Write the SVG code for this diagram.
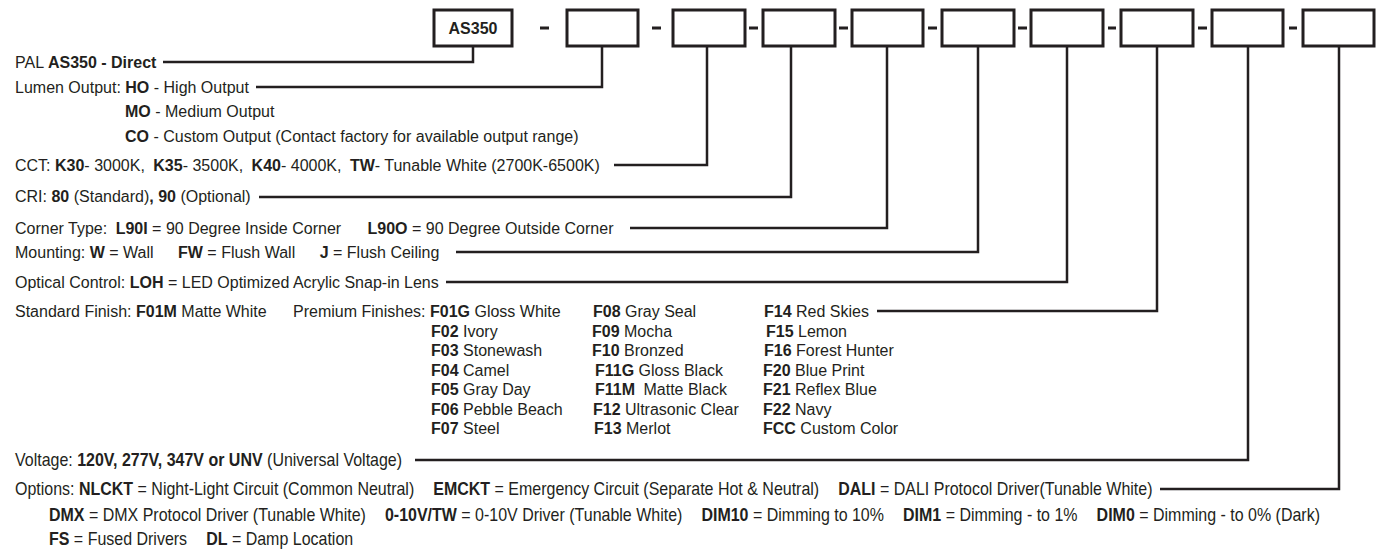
<svg xmlns="http://www.w3.org/2000/svg" width="1376" height="550" viewBox="0 0 1376 550">
<style>
text{font-family:"Liberation Sans",Arial,sans-serif;font-size:16px;fill:#231f20}
.b{font-weight:bold}
.box{fill:#fff;stroke:#231f20;stroke-width:3}
.ln{fill:none;stroke:#231f20;stroke-width:2.5}
.dash{stroke:#231f20;stroke-width:3}
.nar text{font-size:17.5px}
</style>
<rect width="1376" height="550" fill="#fff"/>
<g id="connectors">
<path class="ln" d="M163 62H473V46"/>
<path class="ln" d="M256 87H602V46"/>
<path class="ln" d="M614 165H707V46"/>
<path class="ln" d="M259 197H791V46"/>
<path class="ln" d="M630 228H887V46"/>
<path class="ln" d="M456 252H978V46"/>
<path class="ln" d="M446 282H1067V46"/>
<path class="ln" d="M877 311H1157V46"/>
<path class="ln" d="M415 460H1248V46"/>
<path class="ln" d="M1160 489H1339V46"/>
<path class="dash" d="M540 28H549M652 28H661M749 28H758M839 28H848M928 28H937M1018 28H1027M1108 28H1116M1198 28H1207M1289 28H1297"/>
</g>
<g id="box-as350"><rect class="box" x="434" y="10" width="78" height="36"/><text class="b" x="473" y="34" text-anchor="middle">AS350</text></g>
<g id="box2"><rect class="box" x="567" y="10" width="71" height="36"/></g>
<g id="box3"><rect class="box" x="673" y="10" width="72" height="36"/></g>
<g id="box4"><rect class="box" x="763" y="10" width="72" height="36"/></g>
<g id="box5"><rect class="box" x="852" y="10" width="71" height="36"/></g>
<g id="box6"><rect class="box" x="942" y="10" width="72" height="36"/></g>
<g id="box7"><rect class="box" x="1031" y="10" width="72" height="36"/></g>
<g id="box8"><rect class="box" x="1121" y="10" width="72" height="36"/></g>
<g id="box9"><rect class="box" x="1212" y="10" width="71" height="36"/></g>
<g id="box10"><rect class="box" x="1303" y="10" width="71" height="36"/></g>
<g id="label-pal"><text x="15" y="68">PAL <tspan class="b">AS350 - Direct</tspan></text></g>
<g id="label-lumen">
<text x="15" y="93">Lumen Output: <tspan class="b">HO</tspan> - High Output</text>
<text x="125" y="117"><tspan class="b">MO</tspan> - Medium Output</text>
<text x="125" y="142"><tspan class="b">CO</tspan> - Custom Output (Contact factory for available output range)</text>
</g>
<g id="label-cct"><text x="15" y="171">CCT: <tspan class="b">K30</tspan>- 3000K, <tspan class="b" dx="4">K35</tspan>- 3500K, <tspan class="b" dx="4">K40</tspan>- 4000K, <tspan class="b" dx="4">TW</tspan>- Tunable White (2700K-6500K)</text></g>
<g id="label-cri"><text x="15" y="202">CRI: <tspan class="b">80</tspan> (Standard)<tspan class="b">, 90</tspan> (Optional)</text></g>
<g id="label-corner"><text x="15" y="234">Corner Type: <tspan class="b" dx="4">L90I</tspan> = 90 Degree Inside Corner <tspan class="b" dx="22">L90O</tspan> = 90 Degree Outside Corner</text></g>
<g id="label-mounting"><text x="15" y="258">Mounting: <tspan class="b">W</tspan> = Wall <tspan class="b" dx="20">FW</tspan> = Flush Wall <tspan class="b" dx="20">J</tspan> = Flush Ceiling</text></g>
<g id="label-optical"><text x="15" y="288">Optical Control: <tspan class="b">LOH</tspan> = LED Optimized Acrylic Snap-in Lens</text></g>
<g id="label-finish">
<text x="15" y="317">Standard Finish: <tspan class="b">F01M</tspan> Matte White</text>
<text x="293" y="317">Premium Finishes:</text>
<text x="430" y="317"><tspan class="b">F01G</tspan> Gloss White</text>
<text x="431" y="336.5"><tspan class="b">F02</tspan> Ivory</text>
<text x="431" y="356"><tspan class="b">F03</tspan> Stonewash</text>
<text x="431" y="375.5"><tspan class="b">F04</tspan> Camel</text>
<text x="431" y="395"><tspan class="b">F05</tspan> Gray Day</text>
<text x="431" y="414.5"><tspan class="b">F06</tspan> Pebble Beach</text>
<text x="431" y="434"><tspan class="b">F07</tspan> Steel</text>
<text x="593" y="317"><tspan class="b">F08</tspan> Gray Seal</text>
<text x="592" y="336.5"><tspan class="b">F09</tspan> Mocha</text>
<text x="592" y="356"><tspan class="b">F10</tspan> Bronzed</text>
<text x="595" y="375.5"><tspan class="b">F11G</tspan> Gloss Black</text>
<text x="595" y="395"><tspan class="b">F11M</tspan><tspan dx="4"> Matte Black</tspan></text>
<text x="593" y="414.5"><tspan class="b">F12</tspan> Ultrasonic Clear</text>
<text x="594" y="434"><tspan class="b">F13</tspan> Merlot</text>
<text x="764" y="317"><tspan class="b">F14</tspan> Red Skies</text>
<text x="766" y="336.5"><tspan class="b">F15</tspan> Lemon</text>
<text x="764" y="356"><tspan class="b">F16</tspan> Forest Hunter</text>
<text x="763" y="375.5"><tspan class="b">F20</tspan> Blue Print</text>
<text x="763" y="395"><tspan class="b">F21</tspan> Reflex Blue</text>
<text x="763" y="414.5"><tspan class="b">F22</tspan> Navy</text>
<text x="763" y="434"><tspan class="b">FCC</tspan> Custom Color</text>
</g>
<g id="label-voltage" class="nar" transform="translate(15,466) scale(0.914,1)"><text x="0" y="0">Voltage: <tspan class="b">120V, 277V, 347V or UNV</tspan> (Universal Voltage)</text></g>
<g id="label-options" class="nar">
<g transform="translate(15,495) scale(0.914,1)"><text x="0" y="0">Options: <tspan class="b">NLCKT</tspan> =  Night-Light Circuit (Common Neutral) <tspan class="b" dx="16">EMCKT</tspan> = Emergency Circuit (Separate Hot &amp; Neutral) <tspan class="b" dx="16">DALI</tspan> = DALI Protocol Driver(Tunable White)</text></g>
<g transform="translate(49,521) scale(0.914,1)"><text x="0" y="0"><tspan class="b">DMX</tspan> = DMX Protocol Driver (Tunable White) <tspan class="b" dx="16">0-10V/TW</tspan> = 0-10V Driver (Tunable White) <tspan class="b" dx="16">DIM10</tspan> = Dimming to 10% <tspan class="b" dx="16">DIM1</tspan> = Dimming - to 1% <tspan class="b" dx="16">DIM0</tspan> = Dimming - to 0% (Dark)</text></g>
<g transform="translate(49,545) scale(0.914,1)"><text x="0" y="0"><tspan class="b">FS</tspan> =  Fused Drivers <tspan class="b" dx="16">DL</tspan> = Damp Location</text></g>
</g>
</svg>
